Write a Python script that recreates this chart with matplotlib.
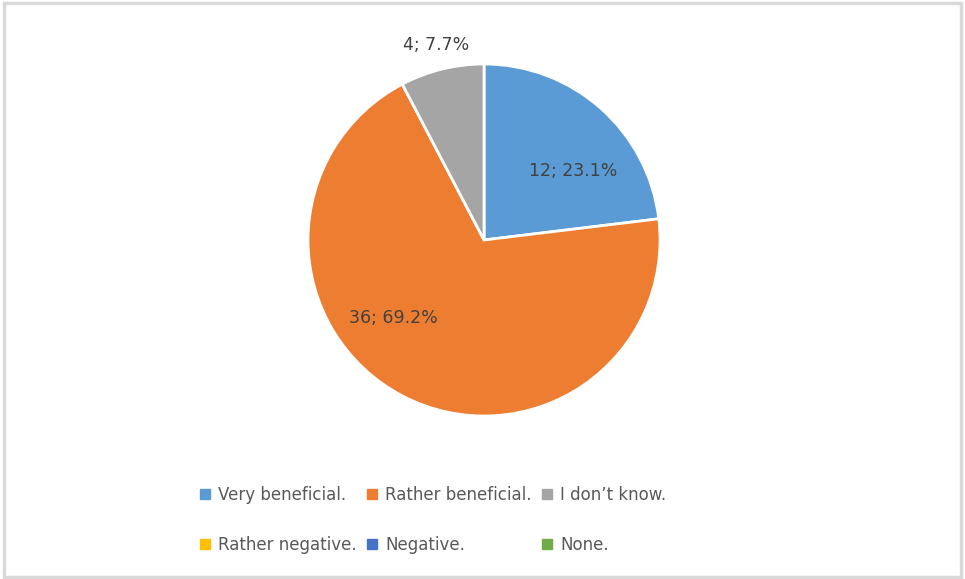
import matplotlib
matplotlib.use('Agg')
import matplotlib.pyplot as plt
from matplotlib.lines import Line2D
from matplotlib.patches import Rectangle
import numpy as np

# Survey answers
categories = ['Very beneficial.', 'Rather beneficial.', "I don\u2019t know.",
              'Rather negative.', 'Negative.', 'None.']
counts = [12, 36, 4, 0, 0, 0]
colors = ['#5B9BD5', '#ED7D31', '#A5A5A5', '#FFC000', '#4472C4', '#70AD47']

plt.rcParams['font.family'] = ['DejaVu Sans']

fig = plt.figure(figsize=(9.65, 5.79), dpi=100)

# light grey frame around the chart area
fig.patches.append(Rectangle((0.004, 0.004), 0.992, 0.990, transform=fig.transFigure,
                             fill=False, edgecolor='#D9D9D9', linewidth=2.5))

ax = fig.add_axes([0.3192, 0.2815, 0.3648, 0.608])
total = sum(counts)
nonzero = [(c, col) for c, col in zip(counts, colors) if c > 0]
wedges, _ = ax.pie([c for c, _ in nonzero], colors=[col for _, col in nonzero],
                   startangle=90, counterclock=False, radius=1,
                   wedgeprops=dict(edgecolor='white', linewidth=2))
ax.set_xlim(-1, 1)
ax.set_ylim(-1, 1)
ax.set_aspect('equal')

# label placement per slice (distance, angle shift from mid angle) - Excel "best fit"
label_pos = [(0.64, -10.5), (0.68, -21.7), (1.14, 0.0)]
for w, (c, _), (dist, shift) in zip(wedges, nonzero, label_pos):
    ang = np.deg2rad((w.theta1 + w.theta2) / 2 + shift)
    ax.text(dist * np.cos(ang), dist * np.sin(ang),
            f'{c}; {c / total * 100:.1f}%', ha='center', va='center',
            fontsize=12.5, color='#404040')

handles = [Line2D([], [], marker='s', linestyle='none', markersize=7,
                  markerfacecolor=col, markeredgecolor=col) for col in colors]
# legend fills column by column, so reorder to read row by row
order = [0, 3, 1, 4, 2, 5]
fig.legend([handles[i] for i in order], [categories[i] for i in order],
           ncol=3, loc='center', bbox_to_anchor=(0.449, 0.102),
           frameon=False, fontsize=12, labelcolor='#595959',
           handlelength=0.6, handletextpad=0.5, columnspacing=0.6,
           labelspacing=1.95)

fig.savefig('out.png', dpi=100)
